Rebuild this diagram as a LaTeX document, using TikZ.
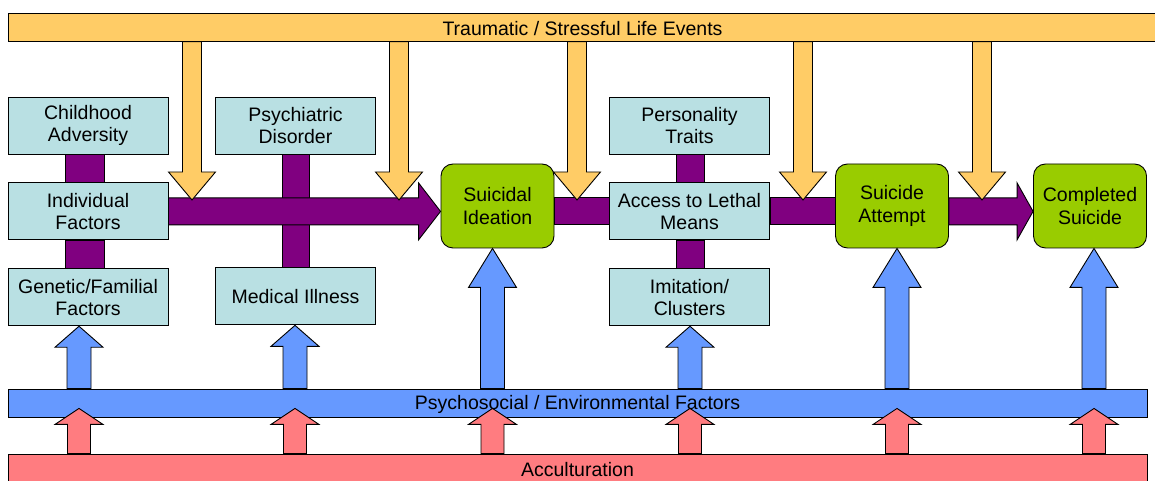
\documentclass[tikz,border=0pt]{standalone}
\usepackage{fontspec}
\setmainfont{Liberation Sans}
\usepackage{tikz}
\usetikzlibrary{positioning,calc}

\definecolor{eventyellow}{HTML}{FFCC66}
\definecolor{linkpurple}{HTML}{800080}
\definecolor{factorblue}{HTML}{B9E0E3}
\definecolor{stagegreen}{HTML}{99CC00}
\definecolor{envblue}{HTML}{6699FF}
\definecolor{accred}{HTML}{FF7C80}

\begin{document}
\begin{tikzpicture}[x=1pt, y=1pt, line width=0.9pt,
  every node/.style={font=\fontsize{19.5}{22.5}\selectfont, align=center, inner sep=0pt},
  band/.style={draw, minimum height=28pt},
  factor/.style={draw, fill=factorblue, minimum width=160pt, minimum height=57pt},
  stage/.style={draw, fill=stagegreen, rounded corners=12pt, minimum width=113pt, minimum height=84pt},
  event/.style={draw, fill=eventyellow},
  link/.style={draw, fill=linkpurple},
  env/.style={draw, fill=envblue},
  accarrow/.style={draw, fill=accred}]
  \useasboundingbox (0,0) rectangle (1155,481);

  % Bands
  \node[band, fill=eventyellow, minimum width=1149pt] (top) at (582.5,453.75) {};
  \node[band, fill=envblue, minimum width=1139pt] (psy) at (577.5,78) {};
  \node[band, fill=accred, minimum width=1139pt] (accul) at (577.5,13) {};

  % Risk factors
  \node[factor] (child) at (88,355.5) {Childhood\\Adversity};
  \node[factor, below=28pt of child] (indiv) {Individual\\Factors};
  \node[factor, below=28pt of indiv] (genetic) {Genetic/Familial\\Factors};
  \node[factor] (psych) at (295.5,355.5) {Psychiatric\\Disorder};
  \node[factor, below=113pt of psych] (medical) {Medical Illness};
  \node[factor] (person) at (689.5,355.5) {Personality\\Traits};
  \node[factor, below=28pt of person] (access) {Access to Lethal\\Means};
  \node[factor, below=28pt of access] (imitation) {Imitation/\\Clusters};

  % Stages
  \node[stage] (ideation) at (497.5,275) {Suicidal\\Ideation};
  \node[stage] (attempt) at (892,275) {Suicide\\Attempt};
  \node[stage] (completed) at (1090,275) {Completed\\Suicide};
  \coordinate (flow) at (0,281);

  % Vertical links
  \foreach \l/\r/\a/\b in {65/104/child/indiv, 65/104/indiv/genetic, 282/309/psych/medical,
                           676/704/person/access, 676/704/access/imitation}
    \draw[link] (\l,0 |- \a.south) rectangle (\r,0 |- \b.north);

  % Main path
  \foreach \a/\b in {ideation/access, access/attempt}
    \draw[link] ($(\a.east |- access.east)+(0,13.5)$) rectangle ($(\b.west |- access.east)+(0,-13.5)$);
  \foreach \a/\b/\h in {indiv/ideation/22, attempt/completed/16}
    \draw[link] let \p1=(\a.east |- access.east), \p2=(\b.west |- access.east) in
      (\p2) -- (\x2-\h,\y2+28.5) -- (\x2-\h,\y2+13.5) -- (\x1,\y2+13.5)
      -- (\x1,\y2-13.5) -- (\x2-\h,\y2-13.5) -- (\x2-\h,\y2-28.5) -- cycle;

  % Life events
  \foreach \xpos in {192, 399, 577, 803, 982}
    \draw[event] let \p1=(\xpos,0 |- top.south), \p2=(\xpos,0 |- flow) in
      (\p2) -- (\x2+23.5,\y2+28) -- (\x2+9.5,\y2+28) -- (\x2+9.5,\y1)
      -- (\x2-9.5,\y1) -- (\x2-9.5,\y2+28) -- (\x2-23.5,\y2+28) -- cycle;

  % Environment
  \foreach \xpos/\b/\h in {79/genetic/21, 295/medical/21, 492.5/ideation/39,
                           690/imitation/21, 897/attempt/39, 1094/completed/39}
    \draw[env] let \p1=(\xpos,0 |- psy.north), \p2=(\xpos,0 |- \b.south) in
      (\p2) -- (\x2+24,\y2-\h) -- (\x2+12,\y2-\h) -- (\x2+12,\y1)
      -- (\x2-12,\y1) -- (\x2-12,\y2-\h) -- (\x2-24,\y2-\h) -- cycle;

  % Acculturation
  \foreach \xpos in {79, 295, 492.5, 690, 897, 1094}
    \draw[accarrow] let \p1=(\xpos,0 |- accul.north), \p2=($(\xpos,0 |- psy.south)+(0,9)$) in
      (\p2) -- (\x2+24,\y2-16) -- (\x2+11.5,\y2-16) -- (\x2+11.5,\y1)
      -- (\x2-11.5,\y1) -- (\x2-11.5,\y2-16) -- (\x2-24,\y2-16) -- cycle;

  % Band labels
  \node[yshift=-1.5pt] (toplab) at (top) {Traumatic / Stressful Life Events};
  \node[yshift=-1.5pt] (psylab) at (psy) {Psychosocial / Environmental Factors};
  \node[yshift=-1.5pt] (acclab) at (accul) {Acculturation};
\end{tikzpicture}
\end{document}
